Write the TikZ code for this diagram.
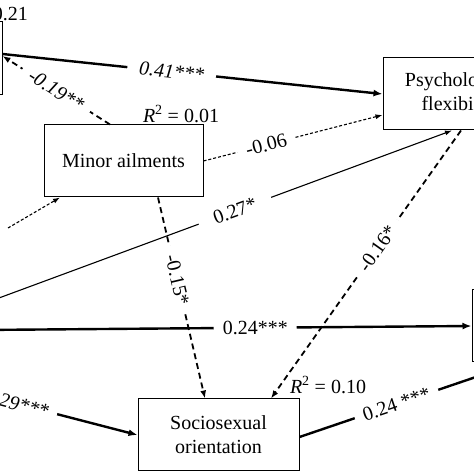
\documentclass[tikz,border=0pt]{standalone}
\usepackage{fontspec}
\setmainfont{Liberation Serif}
\usetikzlibrary{positioning,calc,arrows.meta}

\begin{document}
\begin{tikzpicture}[
    x=1pt, y=1pt,
    font=\fontsize{20}{24}\selectfont,
    box/.style={draw,
                line width=1pt,
                fill=white,
                align=center,
                minimum width=160pt,
                minimum height=72pt,
                inner sep=0pt},
    lab/.style={fill=white, inner xsep=9pt, inner ysep=2pt, sloped},
    rsq/.style={inner sep=0pt},
    strong/.style={line width=2.4pt, -{Latex[length=9pt,width=7pt]}},
    weak/.style={line width=1.1pt, -{Latex[length=7pt,width=5pt]}},
    dsh/.style={line width=1.8pt, dash pattern=on 6pt off 4pt, -{Latex[length=8pt,width=6pt]}},
    fine/.style={line width=1.1pt, dash pattern=on 3pt off 2pt, -{Latex[length=7pt,width=5pt]}}
]
\useasboundingbox (0,0) rectangle (474,474);
\clip (0,0) rectangle (474,474);
\fill[white] (0,0) rectangle (474,474);

\node[box, minimum width=162pt, minimum height=73pt] (ptop) at (-79,415.5) {};
\node[box, minimum width=156pt] (psych) at (461,380) {Psychological\\flexibility};
\node[box, minimum width=159pt] (minor) at (123.5,313) {Minor ailments};
\node[box, minimum width=161pt] (socio) at (218.5,39) {Sociosexual\\orientation};
\node[box, minimum width=162pt] (pright) at (553,148) {};

\coordinate (s06) at (8,246);
\coordinate (s27) at (-20,169);
\coordinate (s24) at (-20,144);
\coordinate (s29) at (-40,85);
\coordinate (e24) at (520,112);

\node[rsq, anchor=east] (r21) at (28,462) {\textit{R}\textsuperscript{2} = 0.21};
\node[rsq] (r01) at (181,360) {\textit{R}\textsuperscript{2} = 0.01};
\node[rsq] (r10) at (328,89) {\textit{R}\textsuperscript{2} = 0.10};

\draw[strong] ([yshift=4.5pt]ptop.east) -- (psych.west) node[lab, inner xsep=12pt, pos=0.445] {\textit{0.41***}};
\draw[dsh] ([xshift=-13.5pt]minor.north) -- ([yshift=2.5pt]ptop.east) node[lab, pos=0.5] {\textit{-0.19**}};
\draw[fine] (minor.east) -- ([yshift=-21pt]psych.west) node[lab, pos=0.35] {-0.06};
\draw[fine] (s06) -- ([xshift=-63.5pt]minor.south);
\draw[dsh] ([xshift=34.5pt]minor.south) -- ([xshift=-13.5pt]socio.north) node[lab, pos=0.41] {-0.15*};
\draw[weak] (s27) -- ([xshift=-9pt]psych.south) node[lab, inner xsep=16pt, pos=0.54] {0.27*};
\draw[dsh] (psych.south) -- ([xshift=52.5pt]socio.north) node[lab, pos=0.44] {-0.16*};
\draw[strong] (s24) -- (pright.west) node[lab, pos=0.56] {0.24***};
\draw[strong] (s29) -- (socio.west) node[lab, pos=0.32] {\textit{0.29***}};
\draw[strong] ([yshift=-2pt]socio.east) -- (e24) node[lab, pos=0.44] {0.24 ***};
\end{tikzpicture}
\end{document}
